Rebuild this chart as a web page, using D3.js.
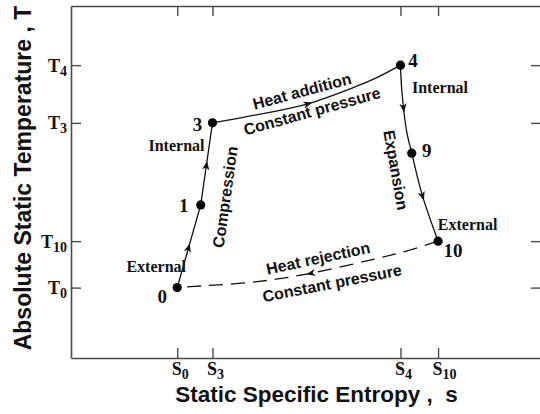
<!DOCTYPE html>
<html>
<head>
<meta charset="utf-8">
<script src="https://cdn.jsdelivr.net/npm/d3@7"></script>
<style>
  html, body { margin: 0; padding: 0; background: #fff; }
  svg { display: block; }
</style>
</head>
<body>
<svg id="chart" width="540" height="414"></svg>
<script>
// Brayton cycle on a T-s diagram (arbitrary units, 0-100 on both axes)
const stateNames = ["0", "1", "3", "4", "9", "10"];
const stateS = [22.6, 27.6, 30.1, 70.1, 72.5, 78.1];
const stateT = [20.0, 43.5, 66.8, 83.2, 58.2, 33.2];

// axis ticks (subscripts of S and T)
const sTickLabels = ["0", "3", "4", "10"];
const sTickValues = [22.6, 30.1, 70.1, 78.1];
const tTickLabels = ["4", "3", "10", "0"];
const tTickValues = [83.2, 66.8, 33.2, 20.0];

// interior points of the curved processes
const heatAddMidS = [39.1, 49.8, 60.4, 65.3];
const heatAddMidT = [69.0, 72.0, 77.0, 79.8];
const expand49MidS = [70.4, 71.4];
const expand49MidT = [75.8, 64.5];
const expand910MidS = [74.7];
const expand910MidT = [46.4];
const heatRejMidS = [70.6, 63.6, 50.4, 39.1, 28.1];
const heatRejMidT = [30.1, 27.8, 23.9, 21.6, 20.5];

const svg = d3.select("#chart");
const plotLeft = 71, plotRight = 541, plotTop = 6, plotBottom = 358;

const x = d3.scaleLinear().domain([0, 100]).range([plotLeft, plotRight]);
const y = d3.scaleLinear().domain([0, 100]).range([plotBottom, plotTop]);

const axisColor = "#4a4a4a";
const serif = "'Liberation Serif', 'Times New Roman', serif";
const sans = "'Liberation Sans', Arial, Helvetica, sans-serif";

const zip = (a, b) => a.map((v, i) => [v, b[i]]);
const st = name => { const i = stateNames.indexOf(name); return [stateS[i], stateT[i]]; };

// ---- frame with inward ticks on all four sides ----
function styleAxis(g) {
  g.selectAll(".domain").attr("stroke", axisColor).attr("stroke-width", 1.6);
  g.selectAll(".tick line").attr("stroke", axisColor).attr("stroke-width", 1.4);
  g.selectAll(".tick text").remove();
}
const gBottom = svg.append("g").attr("transform", `translate(0,${plotBottom})`)
  .call(d3.axisBottom(x).tickValues(sTickValues).tickSize(-10).tickSizeOuter(0)).call(styleAxis);
svg.append("g").attr("transform", `translate(0,${plotTop})`)
  .call(d3.axisTop(x).tickValues(sTickValues).tickSize(-10).tickSizeOuter(0)).call(styleAxis);
const gLeft = svg.append("g").attr("transform", `translate(${plotLeft},0)`)
  .call(d3.axisLeft(y).tickValues(tTickValues).tickSize(-10).tickSizeOuter(0)).call(styleAxis);
svg.append("g").attr("transform", `translate(${plotRight},0)`)
  .call(d3.axisRight(y).tickValues(tTickValues).tickSize(-10).tickSizeOuter(0)).call(styleAxis);

// subscripted tick labels
gBottom.selectAll(".tick").each(function (d, i) {
  const t = d3.select(this).append("text")
    .attr("x", -6).attr("y", 17)
    .attr("text-anchor", "start")
    .attr("fill", "#111")
    .attr("font-family", serif).attr("font-weight", "bold").attr("font-size", 18);
  t.append("tspan").text("S");
  t.append("tspan").attr("font-size", 14).attr("dy", 4).text(sTickLabels[i]);
});
gLeft.selectAll(".tick").each(function (d, i) {
  const t = d3.select(this).append("text")
    .attr("x", -4).attr("y", 6)
    .attr("text-anchor", "end")
    .attr("fill", "#111")
    .attr("font-family", serif).attr("font-weight", "bold").attr("font-size", 18);
  t.append("tspan").text("T");
  t.append("tspan").attr("font-size", 14).attr("dy", 4).text(tTickLabels[i]);
});

// ---- axis titles ----
svg.append("text")
  .attr("x", 316.5).attr("y", 402)
  .attr("text-anchor", "middle")
  .attr("font-family", sans).attr("font-weight", "bold").attr("font-size", 22.5)
  .attr("fill", "#111")
  .style("white-space", "pre")
  .text("Static Specific Entropy ,  s");
svg.append("text")
  .attr("transform", "translate(31,178) rotate(-90)")
  .attr("text-anchor", "middle")
  .attr("font-family", sans).attr("font-weight", "bold").attr("font-size", 23)
  .attr("fill", "#111")
  .style("white-space", "pre")
  .text("Absolute Static Temperature , T");

// ---- cycle processes ----
const processes = [
  { pts: [st("0"), st("1"), st("3")], states: ["0", "1", "3"], curve: d3.curveLinear, dashed: false },
  { pts: [st("3"), ...zip(heatAddMidS, heatAddMidT), st("4")], states: ["3", "4"], curve: d3.curveCatmullRom, dashed: false },
  { pts: [st("4"), ...zip(expand49MidS, expand49MidT), st("9"), ...zip(expand910MidS, expand910MidT), st("10")],
    states: ["4", "9", "10"], curve: d3.curveCatmullRom, dashed: false },
  { pts: [st("10"), ...zip(heatRejMidS, heatRejMidT), st("0")], states: ["10", "0"], curve: d3.curveCatmullRom, dashed: true }
];

const gCycle = svg.append("g");
processes.forEach(p => {
  const line = d3.line().x(d => x(d[0])).y(d => y(d[1])).curve(p.curve);
  const path = gCycle.append("path")
    .attr("d", line(p.pts))
    .attr("fill", "none")
    .attr("stroke", "#111")
    .attr("stroke-width", 1.3)
    .attr("stroke-dasharray", p.dashed ? "14,8" : null);
  const node = path.node();
  const L = node.getTotalLength();
  const N = 800;
  const samples = d3.range(N + 1).map(k => {
    const l = L * k / N, q = node.getPointAtLength(l);
    return { l, x: q.x, y: q.y };
  });
  // path length at each state point
  const lens = p.states.map(n => {
    const [ss, tt] = st(n);
    const px = x(ss), py = y(tt);
    return d3.least(samples, s => (s.x - px) ** 2 + (s.y - py) ** 2).l;
  });
  // direction arrow half-way along each leg
  for (let k = 0; k < lens.length - 1; k++) {
    const lt = (lens[k] + lens[k + 1]) / 2 + 3;
    const a = node.getPointAtLength(lt), b = node.getPointAtLength(lt - 2);
    const ang = Math.atan2(a.y - b.y, a.x - b.x) * 180 / Math.PI;
    gCycle.append("path")
      .attr("d", "M0,0 L-9,-3.6 L-6.5,0 L-9,3.6 Z")
      .attr("fill", "#111")
      .attr("transform", `translate(${a.x},${a.y}) rotate(${ang})`);
  }
});

// state points
gCycle.selectAll("circle")
  .data(stateNames)
  .join("circle")
  .attr("cx", (d, i) => x(stateS[i]))
  .attr("cy", (d, i) => y(stateT[i]))
  .attr("r", 4.6)
  .attr("fill", "#000");

// state numbers
const numOffsets = { "0": [-15, 15], "1": [-17, 7], "3": [-15, 8.5], "4": [12.5, 1.5], "9": [15, 4], "10": [15, 16] };
svg.append("g").selectAll("text")
  .data(stateNames)
  .join("text")
  .attr("x", (d, i) => x(stateS[i]) + numOffsets[d][0])
  .attr("y", (d, i) => y(stateT[i]) + numOffsets[d][1])
  .attr("text-anchor", "middle")
  .attr("font-family", serif).attr("font-weight", "bold").attr("font-size", 19)
  .attr("fill", "#111")
  .text(d => d);

// Internal / External markers
const sideLabels = [
  { text: "External", at: "0", dx: -21, dy: -16 },
  { text: "Internal", at: "3", dx: -36, dy: 28 },
  { text: "Internal", at: "4", dx: 39.5, dy: 27.5 },
  { text: "External", at: "10", dx: 29.5, dy: -11 }
];
svg.append("g").selectAll("text")
  .data(sideLabels)
  .join("text")
  .attr("x", d => x(st(d.at)[0]) + d.dx)
  .attr("y", d => y(st(d.at)[1]) + d.dy)
  .attr("text-anchor", "middle")
  .attr("font-family", serif).attr("font-weight", "bold").attr("font-size", 16)
  .attr("fill", "#111")
  .text(d => d.text);

// process names written along the paths
const processLabels = [
  { text: "Heat addition", cx: 302, cy: 91, rot: -15 },
  { text: "Constant pressure", cx: 312, cy: 111, rot: -15.5 },
  { text: "Heat rejection", cx: 318, cy: 258, rot: -12 },
  { text: "Constant pressure", cx: 332, cy: 283, rot: -11 },
  { text: "Compression", cx: 225, cy: 197, rot: -82 },
  { text: "Expansion", cx: 396, cy: 170, rot: 80 }
];
svg.append("g").selectAll("text")
  .data(processLabels)
  .join("text")
  .attr("transform", d => `translate(${d.cx},${d.cy}) rotate(${d.rot})`)
  .attr("dy", "0.36em")
  .attr("text-anchor", "middle")
  .attr("font-family", sans).attr("font-weight", "bold").attr("font-size", 16)
  .attr("fill", "#111")
  .text(d => d.text);
</script>
</body>
</html>
